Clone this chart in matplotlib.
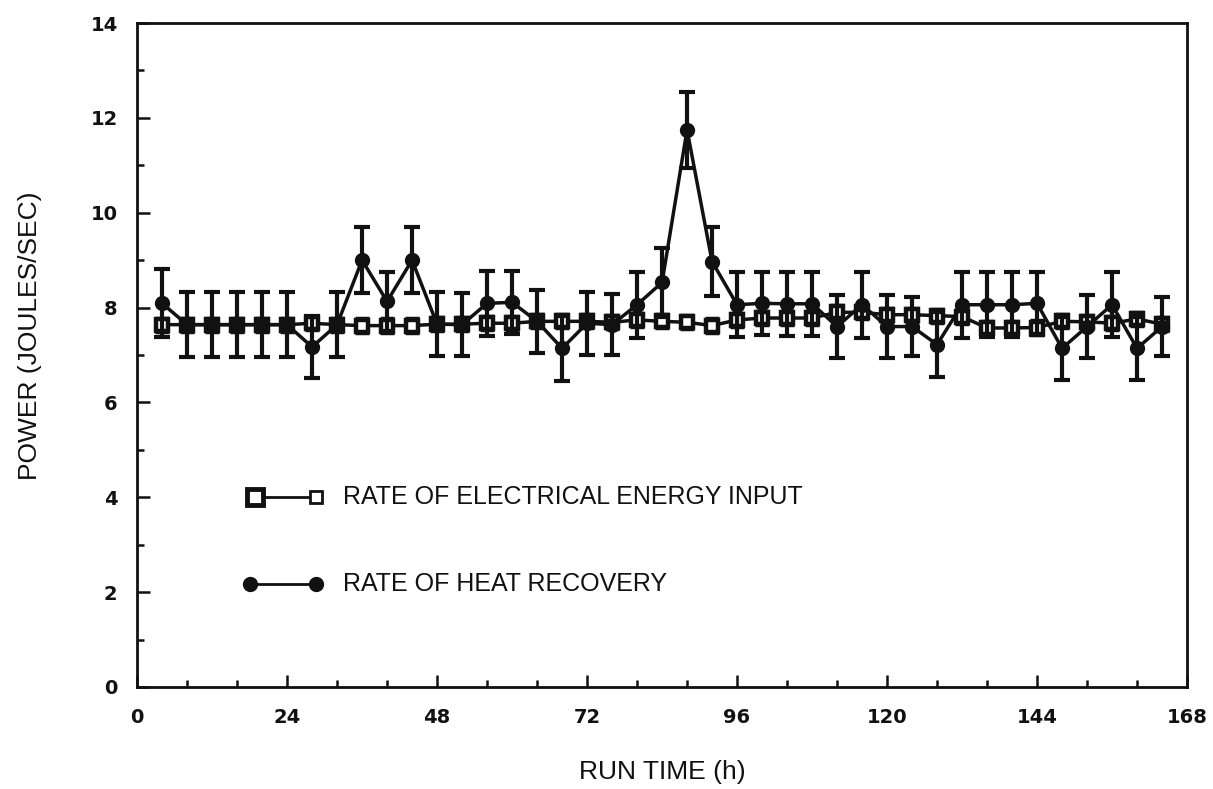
import matplotlib
matplotlib.use("Agg")
import matplotlib.pyplot as plt
from matplotlib.ticker import MultipleLocator

run_time = [4, 8, 12, 16, 20, 24, 28, 32, 36, 40, 44, 48, 52, 56, 60, 64, 68, 72, 76, 80,
            84, 88, 92, 96, 100, 104, 108, 112, 116, 120, 124, 128, 132, 136, 140, 144,
            148, 152, 156, 160, 164]
electrical = [7.64, 7.64, 7.64, 7.64, 7.64, 7.64, 7.67, 7.64, 7.62, 7.62, 7.62, 7.65, 7.65,
              7.67, 7.67, 7.71, 7.71, 7.71, 7.69, 7.74, 7.71, 7.69, 7.62, 7.74, 7.78, 7.78,
              7.78, 7.90, 7.90, 7.85, 7.85, 7.83, 7.81, 7.57, 7.57, 7.58, 7.71, 7.70, 7.67,
              7.76, 7.65]
electrical_err = [0.15] * len(run_time)
heat = [8.09, 7.64, 7.64, 7.64, 7.64, 7.64, 7.17, 7.64, 9.00, 8.13, 9.00, 7.65, 7.64,
        8.09, 8.11, 7.71, 7.14, 7.67, 7.64, 8.06, 8.53, 11.75, 8.97, 8.06, 8.09, 8.08,
        8.08, 7.60, 8.06, 7.60, 7.60, 7.22, 8.06, 8.06, 8.06, 8.09, 7.14, 7.60, 8.06,
        7.14, 7.60]
heat_err = [0.72, 0.68, 0.68, 0.68, 0.68, 0.68, 0.66, 0.68, 0.70, 0.62, 0.70, 0.67, 0.67,
            0.68, 0.66, 0.66, 0.68, 0.66, 0.64, 0.70, 0.72, 0.80, 0.72, 0.68, 0.66, 0.68,
            0.68, 0.67, 0.70, 0.67, 0.63, 0.68, 0.70, 0.68, 0.68, 0.66, 0.66, 0.66, 0.68,
            0.66, 0.63]

x_ticks = [0, 24, 48, 72, 96, 120, 144, 168]
x_tick_labels = ["0", "24", "48", "72", "96", "120", "144", "168"]
y_ticks = [0, 2, 4, 6, 8, 10, 12, 14]
legend_labels = ["RATE OF ELECTRICAL ENERGY INPUT", "RATE OF HEAT RECOVERY"]

plain = ["Liberation Sans", "DejaVu Sans"]
bold = ["DejaVu Sans"]
ink = "#111111"

fig = plt.figure(figsize=(12.13, 7.89), dpi=100)
ax = fig.add_axes([0.113, 0.1293, 0.8656, 0.8415])

# electrical input (open squares)
ax.errorbar(run_time, electrical, yerr=electrical_err, fmt="none", ecolor=ink,
            elinewidth=2.5, capsize=5, capthick=2.5, zorder=2)
ax.plot(run_time, electrical, color=ink, lw=2.5, marker="s", markersize=9,
        markerfacecolor="white", markeredgecolor=ink, markeredgewidth=3.2, zorder=3)

# heat recovery (filled circles)
ax.errorbar(run_time, heat, yerr=heat_err, fmt="none", ecolor=ink,
            elinewidth=3, capsize=6, capthick=3, zorder=4)
ax.plot(run_time, heat, color=ink, lw=2.5, marker="o", markersize=10,
        markerfacecolor=ink, markeredgecolor=ink, zorder=5)

ax.set_xlim(0, 168)
ax.set_ylim(0, 14)
ax.xaxis.set_minor_locator(MultipleLocator(8))
ax.yaxis.set_minor_locator(MultipleLocator(1))
ax.set_xticks(x_ticks)
ax.set_xticklabels(x_tick_labels)
ax.set_yticks(y_ticks)
ax.tick_params(which="both", direction="in", top=False, right=False, width=1.8, color=ink)
ax.tick_params(which="major", length=9)
ax.tick_params(which="minor", length=5)
ax.tick_params(axis="x", which="major", pad=15)
ax.tick_params(axis="y", which="major", pad=14)
for lab in ax.get_xticklabels() + ax.get_yticklabels():
    lab.set_family(bold)
    lab.set_fontweight("bold")
    lab.set_fontsize(14)
    lab.set_color(ink)
for s in ax.spines.values():
    s.set_linewidth(2)
    s.set_color(ink)

ax.set_xlabel("RUN TIME (h)", family=plain, fontsize=19, color=ink, va="center")
ax.set_ylabel("POWER (JOULES/SEC)", family=plain, fontsize=19, color=ink, va="center")
ax.xaxis.set_label_coords(0.5, -0.128)
ax.yaxis.set_label_coords(-0.102, 0.529)

# legend drawn manually in axes coordinates
tr = ax.transAxes
y1, y2 = 0.286, 0.155
ax.plot([0.117, 0.163], [y1, y1], color=ink, lw=2, transform=tr)
ax.plot([0.112], [y1], marker="s", markersize=12, markerfacecolor="white",
        markeredgecolor=ink, markeredgewidth=3.5, transform=tr)
ax.plot([0.170], [y1], marker="s", markersize=8, markerfacecolor="white",
        markeredgecolor=ink, markeredgewidth=2, transform=tr)
ax.text(0.196, y1, legend_labels[0], family=plain, fontsize=18, va="center",
        ha="left", transform=tr, color=ink)
ax.plot([0.110, 0.170], [y2, y2], color=ink, lw=2, transform=tr)
ax.plot([0.108, 0.170], [y2, y2], ls="none", marker="o", markersize=10,
        markerfacecolor=ink, markeredgecolor=ink, transform=tr)
ax.text(0.196, y2, legend_labels[1], family=plain, fontsize=18, va="center",
        ha="left", transform=tr, color=ink)

fig.savefig("out.png", dpi=100, facecolor="white")
